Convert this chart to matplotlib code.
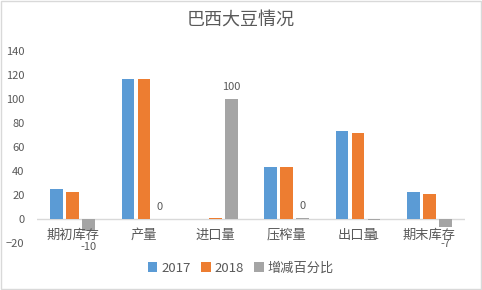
import numpy as np
import matplotlib.pyplot as plt

plt.rcParams['font.family'] = ['Noto Sans CJK SC', 'DejaVu Sans']

categories = ['期初库存', '产量', '进口量', '压榨量', '出口量', '期末库存']
v2017 = [25, 117, 0.3, 43, 73, 22.5]
v2018 = [22.5, 117, 1, 43, 72, 21]
pct = [-10, 0, 100, 0.5, -1, -7]
pct_labels = ['-10', '0', '100', '0', '-1', '-7']

txt = '#595959'
fig = plt.figure(figsize=(4.82, 2.9), dpi=100)
ax = fig.add_axes([37/482, 1 - 243/290, 428/482, 192/290])

x = np.arange(len(categories))
w = 0.18
step = 0.225
ax.bar(x - step, v2017, w, color='#5B9BD5', label='2017')
ax.bar(x, v2018, w, color='#ED7D31', label='2018')
ax.bar(x + step, pct, w, color='#A5A5A5', label='增减百分比')

for i, v in enumerate(pct):
    if v >= 0:
        ax.annotate(pct_labels[i], (x[i] + step, v), textcoords='offset points',
                    xytext=(0, 5), ha='center', va='bottom', fontsize=8, color=txt)
    else:
        ax.annotate(pct_labels[i], (x[i] + step, v), textcoords='offset points',
                    xytext=(0, -8), ha='center', va='top', fontsize=8, color=txt)

# category labels sit just under the zero line, like in Excel
for i, c in enumerate(categories):
    ax.annotate(c, (x[i], 0), textcoords='offset points', xytext=(0, -7),
                ha='center', va='top', fontsize=9.5, color=txt)

ax.set_xlim(-0.5, len(categories) - 0.5)
ax.set_ylim(-20, 140)
ax.set_yticks(range(-20, 141, 20))
ax.set_xticks([])
ax.tick_params(axis='y', labelsize=8, labelcolor=txt, length=0, pad=9)
for s in ['top', 'right', 'left', 'bottom']:
    ax.spines[s].set_visible(False)
ax.axhline(0, color='#D9D9D9', lw=1, zorder=0)
ax.patch.set_alpha(0)

fig.text(0.5, 1 - 20/290, '巴西大豆情况', ha='center', va='center', fontsize=13, color=txt)
fig.legend(loc='center', bbox_to_anchor=(0.5, 1 - 268/290), ncol=3, frameon=False,
           fontsize=9.5, handlelength=0.7, handleheight=0.7, handletextpad=0.3,
           columnspacing=0.8, labelcolor=txt)

border = plt.Rectangle((0.002, 0.003), 0.996, 0.994, transform=fig.transFigure,
                       fill=False, edgecolor='#D9D9D9', lw=1)
fig.patches.append(border)

fig.savefig('out.png', dpi=100)
